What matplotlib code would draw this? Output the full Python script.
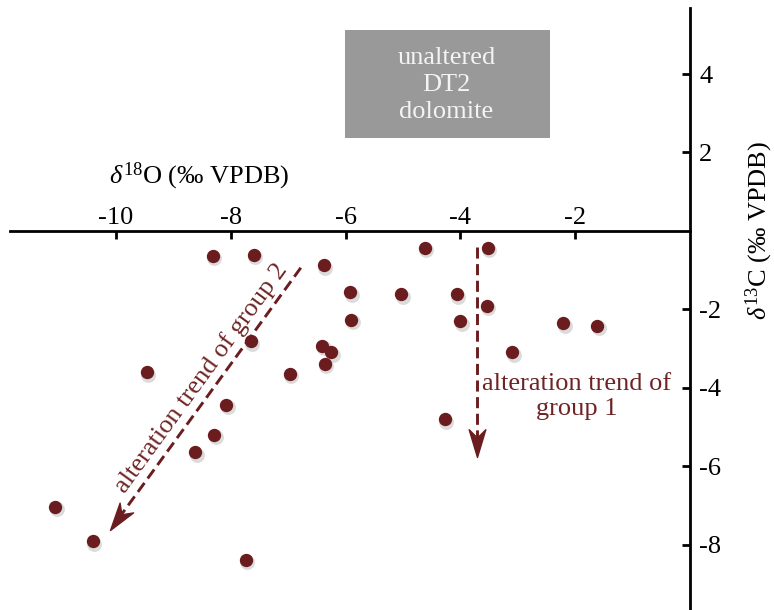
import numpy as np
import matplotlib
matplotlib.use("Agg")
import matplotlib.pyplot as plt
from matplotlib import transforms
from matplotlib.markers import MarkerStyle
from matplotlib.path import Path
from matplotlib.patches import Rectangle

# stable isotope data (per mil VPDB)
d18O = [-8.31, -7.60, -6.38, -4.62, -3.52, -5.92, -5.90, -5.03, -4.06, -4.00,
        -3.54, -2.21, -1.62, -3.10, -7.65, -6.41, -6.25, -6.36, -6.97, -9.46,
        -8.08, -8.29, -8.62, -4.27, -11.06, -10.40, -7.74]
d13C = [-0.64, -0.61, -0.87, -0.43, -0.43, -1.56, -2.27, -1.61, -1.61, -2.30,
        -1.91, -2.35, -2.42, -3.09, -2.81, -2.93, -3.09, -3.39, -3.65, -3.60,
        -4.44, -5.20, -5.64, -4.80, -7.04, -7.91, -8.39]

x_ticks = [-10, -8, -6, -4, -2]
y_ticks = [4, 2, -2, -4, -6, -8]

# trend arrows (start, tip) in data units
trend1 = ((-3.71, -0.41), (-3.71, -5.77))
trend2 = ((-6.78, -0.94), (-10.10, -7.63))

dot_color = "#6b1c1e"
note_color = "#6e2424"

plt.rcParams["font.family"] = ["Liberation Serif", "DejaVu Serif"]
plt.rcParams["mathtext.fontset"] = "custom"
plt.rcParams["mathtext.rm"] = "Liberation Serif"
plt.rcParams["mathtext.it"] = "Liberation Serif:italic"
plt.rcParams["axes.unicode_minus"] = False
fs = 19

fig = plt.figure(figsize=(7.74, 6.10), dpi=100)
ax = fig.add_axes([0, 0, 1, 1])
ax.set_xlim(-12.02, 1.463)
ax.set_ylim(-9.67, 5.89)

# crossing axes at the origin
for side in ["top", "right"]:
    ax.spines[side].set_visible(False)
ax.spines["bottom"].set_position(("data", 0))
ax.spines["left"].set_position(("data", 0))
ax.spines["bottom"].set_bounds(-11.85, 0)
ax.spines["left"].set_bounds(-9.67, 5.69)
for side in ["bottom", "left"]:
    ax.spines[side].set_linewidth(2.0)

ax.set_xticks(x_ticks)
ax.set_yticks(y_ticks)
ax.set_xticklabels([str(v) for v in x_ticks])
ax.set_yticklabels([str(v) for v in y_ticks])
ax.tick_params(axis="both", direction="out", length=5.8, width=2.0, labelsize=fs)
ax.tick_params(axis="x", pad=-10.5)
ax.tick_params(axis="y", pad=-12.5)
for t in ax.get_xticklabels():
    t.set_va("baseline")
for t in ax.get_yticklabels():
    t.set_ha("left")

# axis titles
ax.text(-8.55, 1.40, r"$\delta^{18}$O (‰ VPDB)", fontsize=fs, ha="center", va="center")
ax.text(1.20, 0.0, r"$\delta^{13}$C (‰ VPDB)", fontsize=fs, ha="center", va="center",
        rotation=90)

# gray box
ax.add_patch(Rectangle((-6.01, 2.37), 3.57, 2.76, facecolor="#999999", edgecolor="none"))
ax.text(-4.24, 3.72, "unaltered\nDT2\ndolomite", fontsize=fs, color="#f4f4f4",
        ha="center", va="center", linespacing=1.3)

# points with a soft shadow
shadow = transforms.offset_copy(ax.transData, fig=fig, x=1.5, y=-2.5, units="dots")
ax.scatter(d18O, d13C, s=115, color="#c4c4c4", alpha=0.6, linewidths=0,
           transform=shadow, zorder=2)
ax.scatter(d18O, d13C, s=92, color=dot_color, linewidths=0, zorder=3)

# dashed trend arrows
head = Path([(0, 0), (-1, 0.3), (-0.7, 0), (-1, -0.3), (0, 0)],
            [Path.MOVETO, Path.LINETO, Path.LINETO, Path.LINETO, Path.CLOSEPOLY])
for (x0, y0), (x1, y1) in [trend1, trend2]:
    p0 = ax.transData.transform((x0, y0))
    p1 = ax.transData.transform((x1, y1))
    d = (p1 - p0) / np.hypot(*(p1 - p0))
    base = ax.transData.inverted().transform(p1 - d * 20)
    ax.plot([x0, base[0]], [y0, base[1]], color=dot_color, lw=2.1,
            dashes=(3.8, 1.9), zorder=2)
    ang = np.degrees(np.arctan2(d[1], d[0]))
    m = MarkerStyle(head, transform=transforms.Affine2D().rotate_deg(ang))
    ax.plot([x1], [y1], marker=m, markersize=40, color=dot_color, lw=0, zorder=2)

ax.text(-1.97, -4.23, "alteration trend of\ngroup 1", fontsize=fs, color=note_color,
        ha="center", va="center", linespacing=1.2)
p0 = ax.transData.transform(trend2[0])
p1 = ax.transData.transform(trend2[1])
ang2 = np.degrees(np.arctan2(p0[1] - p1[1], p0[0] - p1[0]))
ax.text(-8.52, -3.75, "alteration trend of group 2", fontsize=fs, color=note_color,
        ha="center", va="center", rotation=ang2, rotation_mode="anchor")

fig.savefig("out.png", dpi=100)
